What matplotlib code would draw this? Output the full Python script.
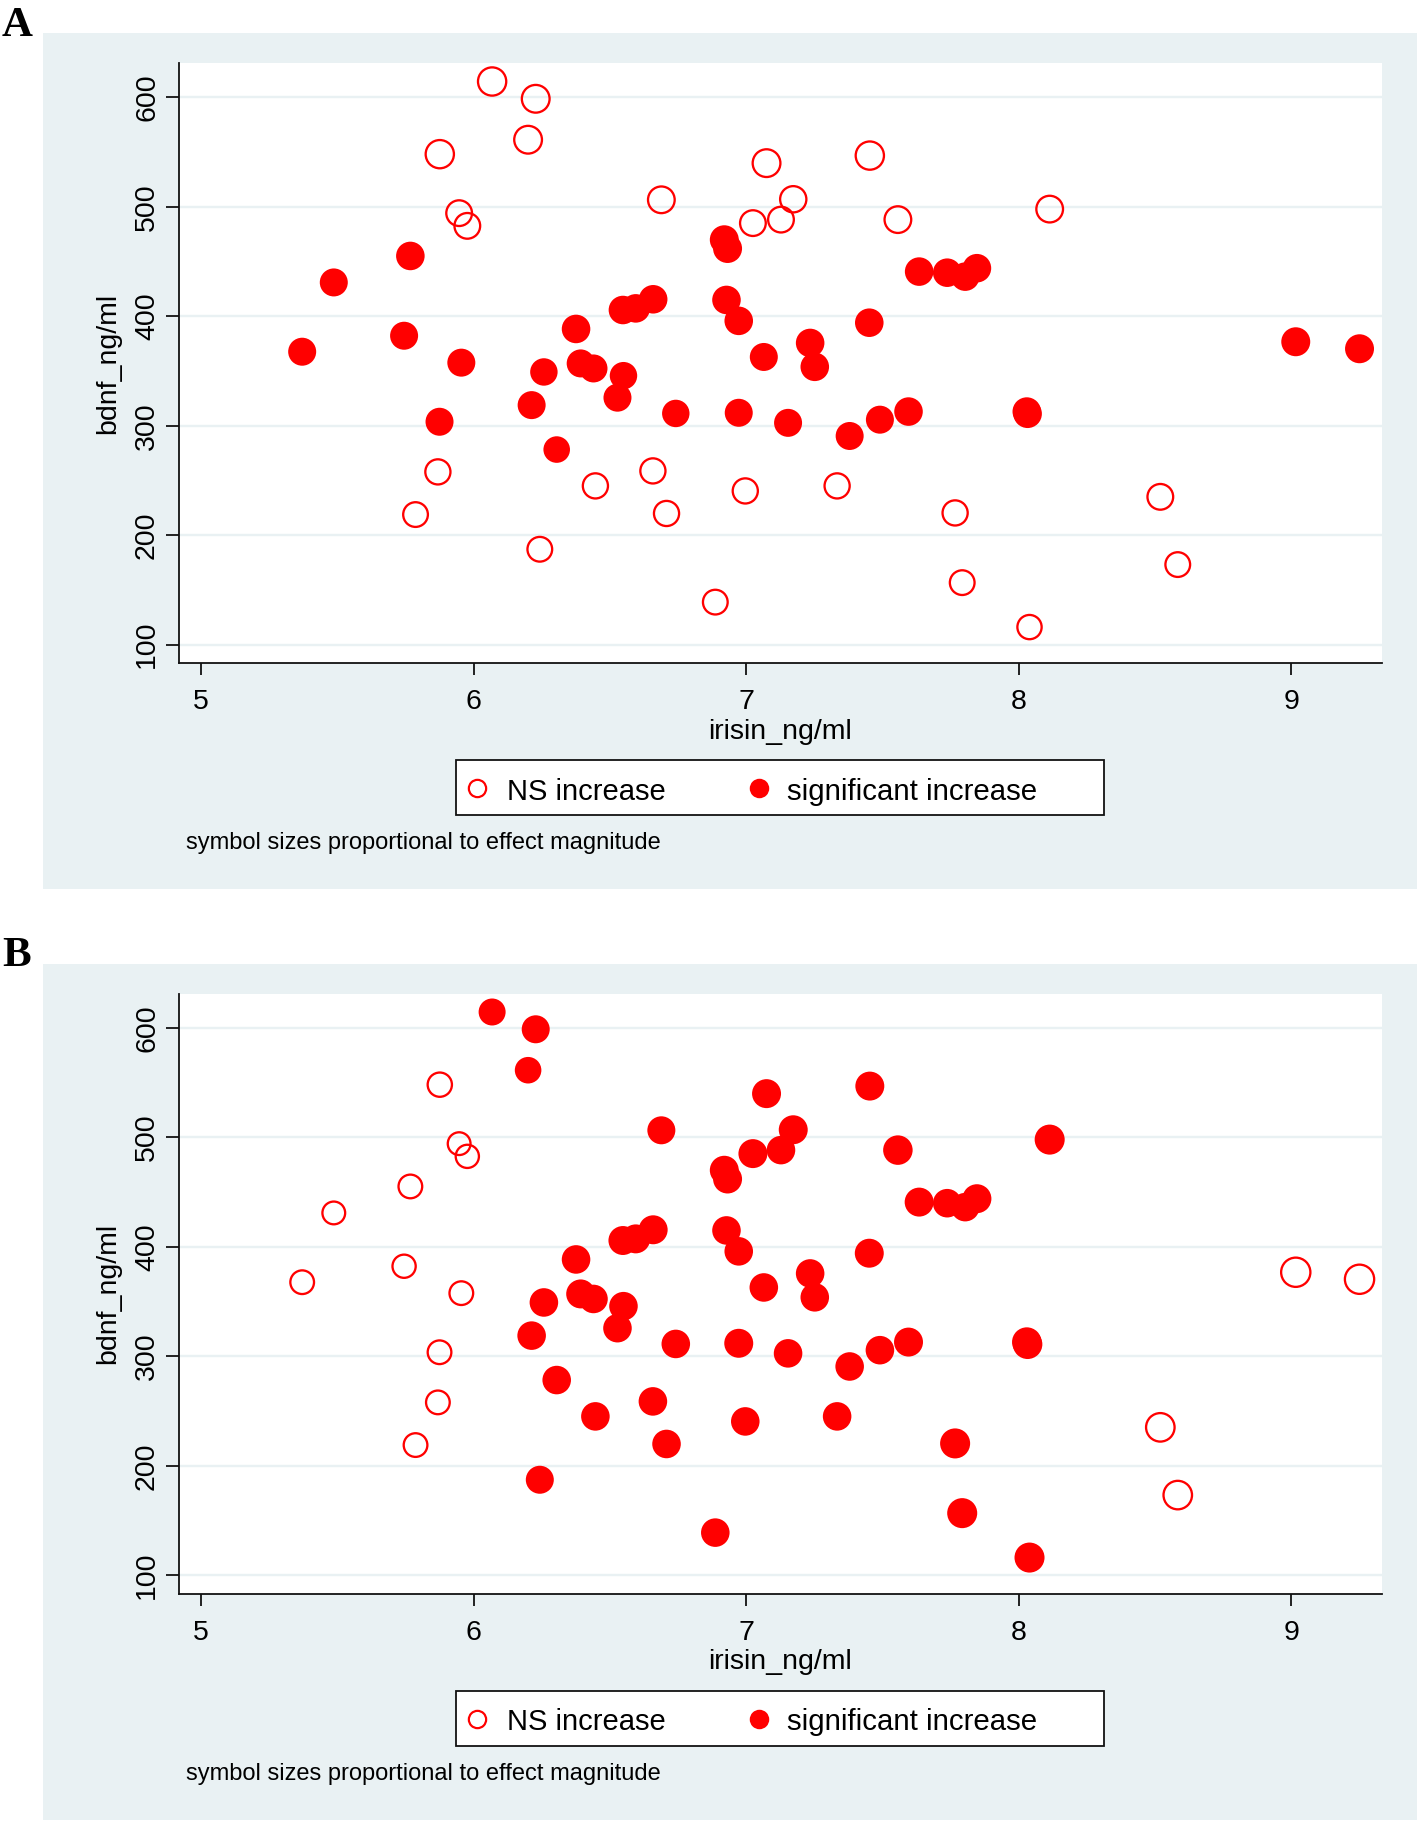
import numpy as np
import matplotlib.pyplot as plt
from matplotlib.patches import Rectangle
from matplotlib.lines import Line2D

# irisin / bdnf for each subject (same points in both panels)
irisin = [6.068, 6.228, 5.876, 6.200, 5.947, 5.977, 6.689, 7.075, 7.173, 7.025,
          7.128, 7.454, 7.557, 8.114, 5.869, 5.787, 6.243, 6.447, 6.658, 6.708,
          6.887, 6.997, 7.334, 7.767, 7.793, 8.040, 8.520, 8.584,
          5.371, 5.487, 5.745, 5.768, 5.875, 5.955, 6.213, 6.258, 6.305, 6.376,
          6.393, 6.440, 6.528, 6.550, 6.548, 6.595, 6.659, 6.742, 6.920, 6.932,
          6.928, 6.973, 6.973, 7.065, 7.154, 7.235, 7.252, 7.380, 7.452, 7.491,
          7.596, 7.635, 7.738, 7.804, 7.847, 8.030, 8.033, 9.017, 9.251]
bdnf = [614.6, 598.8, 548.2, 561.4, 494.3, 482.7, 506.5, 540.0, 507.0, 485.2,
        488.4, 546.9, 488.4, 498.0, 257.9, 218.9, 187.2, 245.1, 258.8, 219.9,
        138.9, 240.5, 245.1, 220.4, 156.7, 116.1, 235.1, 173.2,
        367.7, 431.0, 382.3, 455.2, 303.7, 357.7, 318.9, 349.2, 278.3, 388.5,
        357.0, 352.4, 325.7, 345.8, 405.8, 407.3, 415.6, 311.3, 470.0, 462.0,
        415.0, 395.9, 311.9, 362.9, 302.7, 375.7, 353.9, 290.7, 394.2, 305.6,
        313.0, 440.9, 439.9, 436.3, 444.0, 313.0, 311.0, 376.8, 370.4]

# 1 = significant increase, 0 = NS increase
sig_A = [0, 0, 0, 0, 0, 0, 0, 0, 0, 0,
         0, 0, 0, 0, 0, 0, 0, 0, 0, 0,
         0, 0, 0, 0, 0, 0, 0, 0,
         1, 1, 1, 1, 1, 1, 1, 1, 1, 1,
         1, 1, 1, 1, 1, 1, 1, 1, 1, 1,
         1, 1, 1, 1, 1, 1, 1, 1, 1, 1,
         1, 1, 1, 1, 1, 1, 1, 1, 1]
sig_B = [1, 1, 0, 1, 0, 0, 1, 1, 1, 1,
         1, 1, 1, 1, 0, 0, 1, 1, 1, 1,
         1, 1, 1, 1, 1, 1, 0, 0,
         0, 0, 0, 0, 0, 0, 1, 1, 1, 1,
         1, 1, 1, 1, 1, 1, 1, 1, 1, 1,
         1, 1, 1, 1, 1, 1, 1, 1, 1, 1,
         1, 1, 1, 1, 1, 1, 1, 0, 0]

# relative effect magnitude (marker area)
effect_A = [1.19, 1.15, 1.19, 1.15, 1.00, 1.00, 1.07, 1.15, 1.04, 1.00,
            1.00, 1.19, 1.07, 1.07, 0.96, 0.93, 0.93, 0.96, 0.96, 0.96,
            0.93, 0.96, 0.96, 0.96, 0.93, 0.90, 1.00, 0.93,
            1.00, 1.00, 1.00, 1.04, 1.00, 1.00, 1.00, 0.96, 0.90, 1.04,
            1.00, 1.00, 1.00, 0.96, 1.04, 1.04, 1.04, 0.96, 1.07, 1.07,
            1.04, 1.04, 1.00, 1.00, 1.00, 1.04, 1.04, 1.00, 1.04, 1.00,
            1.04, 1.04, 1.04, 1.04, 1.04, 1.04, 1.04, 1.07, 1.07]
effect_B = [0.93, 1.00, 0.90, 0.90, 0.80, 0.83, 1.00, 1.07, 1.07, 1.07,
            1.04, 1.07, 1.11, 1.15, 0.86, 0.86, 1.00, 1.04, 1.04, 1.04,
            1.04, 1.04, 1.04, 1.15, 1.15, 1.15, 1.21, 1.21,
            0.86, 0.80, 0.83, 0.86, 0.86, 0.86, 1.04, 1.04, 1.04, 1.04,
            1.07, 1.04, 1.04, 1.04, 1.07, 1.07, 1.07, 1.04, 1.07, 1.07,
            1.04, 1.04, 1.07, 1.04, 1.04, 1.04, 1.04, 1.04, 1.07, 1.04,
            1.07, 1.07, 1.04, 1.04, 1.07, 1.11, 1.11, 1.27, 1.27]

xticks = [5, 6, 7, 8, 9]
yticks = [100, 200, 300, 400, 500, 600]

W, H, DPI = 1418, 1823, 100
RED = '#ff0000'
BG = '#e9f1f3'
plt.rcParams['font.family'] = ['Liberation Sans', 'DejaVu Sans']

fig = plt.figure(figsize=(W / DPI, H / DPI), dpi=DPI)
fig.patch.set_facecolor('white')


def fx(px):
    return px / W


def fy(py):
    return 1 - py / H


def pt(px):
    return px * 72 / DPI


def panel(letter, sig, effect, dy):
    fig.add_artist(Rectangle((fx(43), fy(889 + dy)), (1417 - 43) / W, 856 / H,
                             transform=fig.transFigure, facecolor=BG,
                             edgecolor='none', zorder=0))
    fig.text(fx(2), fy(36 + dy), letter, family='Liberation Serif',
             fontweight='bold', fontsize=31, va='baseline', ha='left')

    ax = fig.add_axes([fx(179), fy(663.3 + dy), (1381.6 - 179) / W, 600.3 / H])
    ax.set_facecolor('white')
    ax.set_xlim(4.919, 9.332)
    ax.set_ylim(83, 631.5)
    ax.set_xticks(xticks)
    ax.set_yticks(yticks)
    ax.yaxis.grid(True, color=BG, linewidth=pt(2.4))
    ax.set_axisbelow(True)
    for s in ['top', 'right']:
        ax.spines[s].set_visible(False)
    for s in ['left', 'bottom']:
        ax.spines[s].set_linewidth(pt(1.8))
        ax.spines[s].set_color('#111111')

    x = np.array(irisin)
    y = np.array(bdnf)
    sg = np.array(sig, dtype=bool)
    d = 28 * np.sqrt(np.array(effect))
    lw = 2.3
    ax.scatter(x[~sg], y[~sg], s=pt(d[~sg] - lw) ** 2, facecolors='none',
               edgecolors=RED, linewidths=pt(lw), zorder=3)
    ax.scatter(x[sg], y[sg], s=pt(d[sg]) ** 2, color=RED, linewidths=0, zorder=3)

    ax.tick_params(axis='x', length=pt(12), width=pt(1.8), pad=pt(14),
                   labelsize=20.5, color='#111111')
    ax.tick_params(axis='y', length=pt(13), width=pt(1.8), pad=pt(6),
                   labelsize=20.5, labelrotation=90, color='#111111')
    for lab in ax.get_yticklabels():
        lab.set_va('center')
    ax.set_xlabel('irisin_ng/ml', fontsize=20.5, labelpad=2.5)
    ax.set_ylabel('bdnf_ng/ml', fontsize=20.5, labelpad=9.5)

    # legend box
    fig.add_artist(Rectangle((fx(456), fy(815 + dy)), (1104 - 456) / W, 55 / H,
                             transform=fig.transFigure, facecolor='white',
                             edgecolor='#111111', linewidth=pt(1.8), zorder=2))
    fig.add_artist(Line2D([fx(477)], [fy(788 + dy)], marker='o', ms=pt(19.5 - 2.2),
                          mfc='none', mec=RED, mew=pt(2.2), ls='none',
                          transform=fig.transFigure, zorder=3))
    fig.add_artist(Line2D([fx(759)], [fy(788 + dy)], marker='o', ms=pt(19.5),
                          mfc=RED, mec='none', ls='none',
                          transform=fig.transFigure, zorder=3))
    fig.text(fx(507), fy(799.5 + dy), 'NS increase', fontsize=21, va='baseline', zorder=4)
    fig.text(fx(787), fy(799.5 + dy), 'significant increase', fontsize=21.2,
             va='baseline', zorder=4)
    fig.text(fx(186), fy(849.5 + dy), 'symbol sizes proportional to effect magnitude',
             fontsize=17, va='baseline')


panel('A', sig_A, effect_A, 0)
panel('B', sig_B, effect_B, 930.5)

fig.savefig('out.png', dpi=DPI, facecolor='white')
